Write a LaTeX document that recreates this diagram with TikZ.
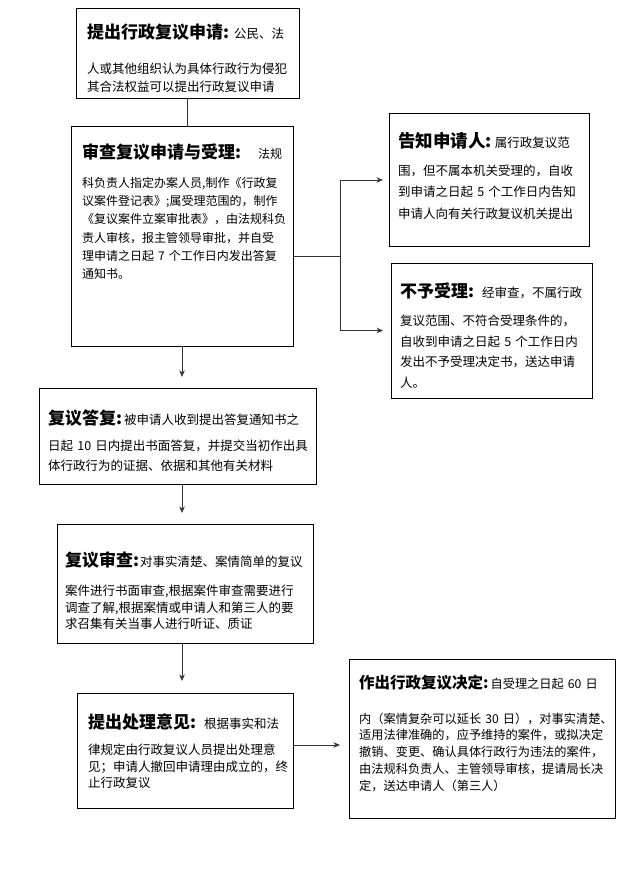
\documentclass[tikz,border=0pt]{standalone}
\usepackage{fontspec}
\setmainfont{Noto Sans CJK SC}
\usetikzlibrary{arrows.meta}

\begin{document}
\begin{tikzpicture}[x=1pt,y=-1pt,>={Stealth[length=6.5pt,width=5.5pt]},
  box/.style={draw,line width=1pt,anchor=north west,inner sep=0pt,outer sep=0pt},
  txt/.style={anchor=base west,inner sep=0pt,text width=#1,align=left},
  link/.style={line width=0.8pt,draw=black!80}]
  \useasboundingbox (0,0) rectangle (635,877);
  % boxes
  \node[box,minimum width=223pt,minimum height=90pt] (apply) at (76,9) {};
  \node[box,minimum width=222pt,minimum height=219pt] (review) at (71,127) {};
  \node[box,minimum width=200pt,minimum height=132pt] (inform) at (389,114) {};
  \node[box,minimum width=201pt,minimum height=135pt] (reject) at (391,263) {};
  \node[box,minimum width=277pt,minimum height=96pt] (reply) at (39,388) {};
  \node[box,minimum width=256pt,minimum height=119pt] (exam) at (57,524) {};
  \node[box,minimum width=216pt,minimum height=115pt] (opinion) at (77,693) {};
  \node[box,minimum width=266pt,minimum height=159pt] (decide) at (349,659) {};
  % texts
  \node[txt=260pt,font=\fontsize{12.5}{18.5}\selectfont] (apply-t) at (87,39)
    {{\fontsize{17}{17}\selectfont\bfseries 提出行政复议申请:}\hspace{5pt}公民、法\\[16pt]
     人或其他组织认为具体行政行为侵犯\\
     其合法权益可以提出行政复议申请};
  \node[txt=260pt,font=\fontsize{12}{18.2}\selectfont] (review-t) at (82,159)
    {{\fontsize{17}{17}\selectfont\bfseries 审查复议申请与受理:}\hspace{17pt}法规\\[10.3pt]
     科负责人指定办案人员,制作《行政复\\
     议案件登记表》;属受理范围的，制作\\
     《复议案件立案审批表》，由法规科负\\
     责人审核，报主管领导审批，并自受\\
     理申请之日起~7~个工作日内发出答复\\
     通知书。};
  \node[txt=260pt,font=\fontsize{12.5}{21.5}\selectfont] (inform-t) at (398,148)
    {{\fontsize{17.5}{17.5}\selectfont\bfseries 告知申请人:}\hspace{3pt}属行政复议范\\[6pt]
     围，但不属本机关受理的，自收\\
     到申请之日起~5~个工作日内告知\\
     申请人向有关行政复议机关提出};
  \node[txt=260pt,font=\fontsize{12.5}{20.5}\selectfont] (reject-t) at (400,297)
    {{\fontsize{17}{17}\selectfont\bfseries 不予受理:}\hspace{8pt}经审查，不属行政\\[8pt]
     复议范围、不符合受理条件的，\\
     自收到申请之日起~5~个工作日内\\
     发出不予受理决定书，送达申请\\
     人。};
  \node[txt=300pt,font=\fontsize{12.5}{20}\selectfont] (reply-t) at (48,424)
    {{\fontsize{17}{17}\selectfont\bfseries 复议答复:}\hspace{2pt}被申请人收到提出答复通知书之\\[6.5pt]
     日起~10~日内提出书面答复，并提交当初作出具\\
     体行政行为的证据、依据和其他有关材料};
  \node[txt=300pt,font=\fontsize{12.5}{16.5}\selectfont] (exam-t) at (65,566)
    {{\fontsize{17}{17}\selectfont\bfseries 复议审查:}\hspace{1pt}对事实清楚、案情简单的复议\\[13pt]
     案件进行书面审查,根据案件审查需要进行\\
     调查了解,根据案情或申请人和第三人的要\\
     求召集有关当事人进行听证、质证};
  \node[txt=260pt,font=\fontsize{12.5}{16.5}\selectfont] (opinion-t) at (88,728)
    {{\fontsize{17}{17}\selectfont\bfseries 提出处理意见:}\hspace{8pt}根据事实和法\\[10pt]
     律规定由行政复议人员提出处理意\\
     见；申请人撤回申请理由成立的，终\\
     止行政复议};
  \node[txt=300pt,font=\fontsize{12.2}{16.7}\selectfont] (decide-t) at (359,688)
    {{\fontsize{15.5}{15.5}\selectfont\bfseries 作出行政复议决定:}\hspace{2pt}自受理之日起~60~日\\[18.5pt]
     内（案情复杂可以延长~30~日），对事实清楚、\\
     适用法律准确的，应予维持的案件，或拟决定\\
     撤销、变更、确认具体行政行为违法的案件，\\
     由法规科负责人、主管领导审核，提请局长决\\
     定，送达申请人（第三人）};
  % connectors
  \draw[link] (apply.south) -- (apply.south |- review.north);
  \draw[link,->,shorten >=11pt] (review.south) -- (review.south |- reply.north);
  \draw[link,->,shorten >=11pt] (review.south |- reply.south) -- (review.south |- exam.north);
  \draw[link,->,shorten >=12pt] (review.south |- exam.south) -- (review.south |- opinion.north);
  \coordinate (fork) at (340,256);
  \draw[link] (review.east |- fork) -- (fork);
  \draw[link] (fork |- inform) -- (fork |- reject);
  \draw[link,->,shorten >=6pt] (fork |- inform) -- (inform);
  \draw[link,->,shorten >=8pt] (fork |- reject) -- (reject);
  \draw[link,->,shorten >=9pt] ([yshift=5.5pt]opinion.east) -- ([yshift=5.5pt]opinion.east -| decide.west);
\end{tikzpicture}
\end{document}
